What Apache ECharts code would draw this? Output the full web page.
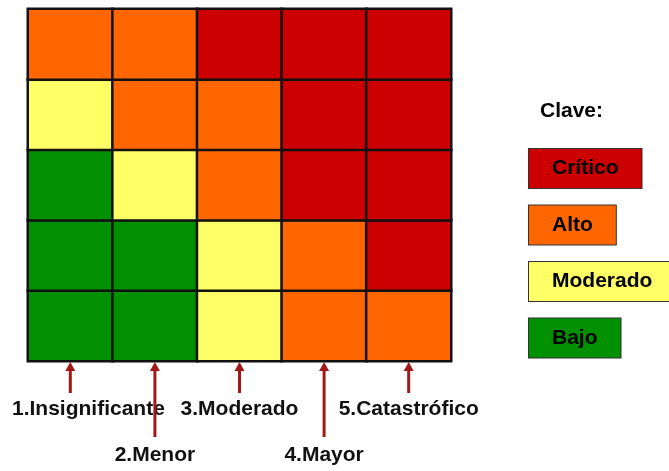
<!DOCTYPE html>
<html>
<head>
<meta charset="utf-8">
<script src="https://cdn.jsdelivr.net/npm/echarts@6/dist/echarts.min.js"></script>
<style>
  html, body { margin: 0; padding: 0; background: #fff; }
  #chart { width: 669px; height: 471px; }
</style>
</head>
<body>
<div id="chart"></div>
<script>
// impact (x) and probability (y, bottom to top)
const impactLabels = ['1.Insignificante', '2.Menor', '3.Moderado', '4.Mayor', '5.Catastrófico'];
const probLabels = ['1', '2', '3', '4', '5'];

// risk level per cell, rows listed bottom to top (1 = Bajo ... 4 = Crítico)
const riskRows = [
  [1, 1, 2, 3, 3],
  [1, 1, 2, 3, 4],
  [1, 2, 3, 4, 4],
  [2, 3, 3, 4, 4],
  [3, 3, 4, 4, 4]
];

const levelNames = ['Bajo', 'Moderado', 'Alto', 'Crítico'];
const levelColors = ['#009000', '#FFFF66', '#FF6600', '#CC0000'];
const keyTitle = 'Clave:';

const FONT = '"Liberation Sans", Arial, sans-serif';
const ARROW = '#A01818';

const cells = [];
riskRows.forEach((row, y) => {
  row.forEach((v, x) => cells.push([x, y, v]));
});

// measure label widths so the first one stays inside the page
const ctx = document.createElement('canvas').getContext('2d');
ctx.font = 'bold 21px ' + FONT;

const chart = echarts.init(document.getElementById('chart'));

// key boxes, top (Crítico) to bottom (Bajo)
const keyItems = levelNames.map((name, i) => ({
  type: 'text',
  left: 528,
  top: 148 + (levelNames.length - 1 - i) * 56.5,
  style: {
    text: name,
    font: 'bold 21px ' + FONT,
    fill: '#000',
    backgroundColor: levelColors[i],
    borderColor: '#333',
    borderWidth: 1,
    padding: [9, 23, 9, 23]
  }
}));

chart.setOption({
  animation: false,
  grid: { left: 28, top: 9, width: 423, height: 352 },
  xAxis: {
    type: 'category',
    data: impactLabels,
    axisLine: { show: false },
    axisTick: { show: false },
    axisLabel: { show: false },
    splitLine: { show: false }
  },
  yAxis: {
    type: 'category',
    data: probLabels,
    axisLine: { show: false },
    axisTick: { show: false },
    axisLabel: { show: false },
    splitLine: { show: false }
  },
  visualMap: {
    type: 'piecewise',
    show: false,
    seriesIndex: 0,
    dimension: 2,
    pieces: levelColors.map((c, i) => ({ value: i + 1, color: c }))
  },
  graphic: [
    {
      type: 'text',
      left: 540,
      top: 101,
      style: { text: keyTitle, font: 'bold 21px ' + FONT, fill: '#000' }
    }
  ].concat(keyItems),
  series: [
    {
      type: 'heatmap',
      data: cells,
      itemStyle: { borderColor: '#111', borderWidth: 2.5 },
      emphasis: { disabled: true },
      label: { show: false }
    },
    {
      type: 'custom',
      silent: true,
      data: impactLabels.map((_, i) => [i]),
      encode: { x: 0 },
      renderItem: (params, api) => {
        const i = api.value(0);
        const cs = params.coordSys;
        const bottom = cs.y + cs.height;
        const cx = api.coord([i, 0])[0];
        const longOne = i % 2 === 1;
        const len = longOne ? 76 : 32;
        const text = impactLabels[i];
        const w = ctx.measureText(text).width;
        const tx = Math.max(cx, 12 + w / 2);
        return {
          type: 'group',
          children: [
            {
              type: 'line',
              shape: { x1: cx, y1: bottom + 6, x2: cx, y2: bottom + len },
              style: { stroke: ARROW, lineWidth: 3 }
            },
            {
              type: 'polygon',
              shape: { points: [[cx, bottom + 1], [cx - 5, bottom + 10], [cx + 5, bottom + 10]] },
              style: { fill: ARROW }
            },
            {
              type: 'text',
              style: {
                text: text,
                x: tx,
                y: longOne ? 455 : 409,
                align: 'center',
                verticalAlign: 'middle',
                font: 'bold 21px ' + FONT,
                fill: '#111'
              }
            }
          ]
        };
      }
    }
  ]
});
</script>
</body>
</html>
